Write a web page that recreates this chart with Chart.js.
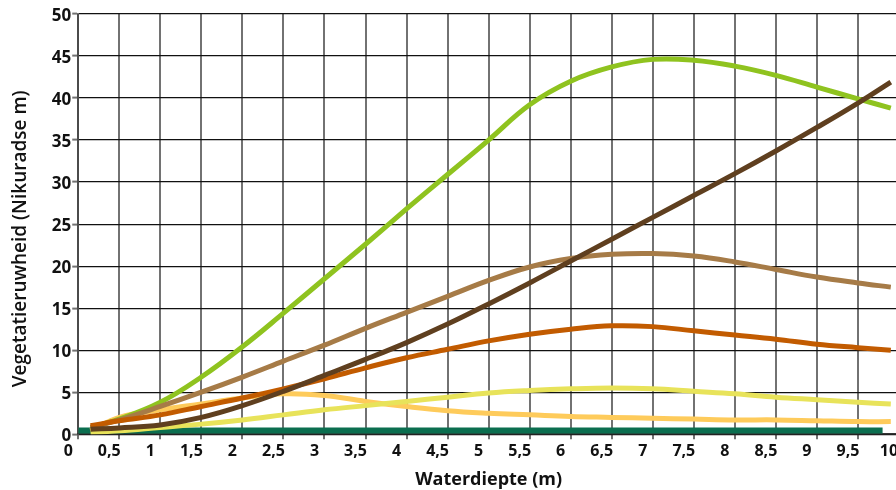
<!DOCTYPE html>
<html>
<head>
<meta charset="utf-8">
<script src="https://cdn.jsdelivr.net/npm/chart.js@4"></script>
<style>
  html, body { margin: 0; padding: 0; background: #ffffff; overflow: hidden; }
  #wrap { width: 920px; height: 490px; }
</style>
</head>
<body>
<div id="wrap"><canvas id="c" width="920" height="490"></canvas></div>
<script>
// ---- data ----
const xTickLabels = ['0','0,5','1','1,5','2','2,5','3','3,5','4','4,5','5','5,5','6','6,5','7','7,5','8','8,5','9','9,5','10'];
const yTickLabels = ['0','5','10','15','20','25','30','35','40','45','50'];

const depth = [0.15, 0.5, 1, 1.5, 2, 2.5, 3, 3.5, 4, 4.5, 5, 5.5, 6, 6.5, 7, 7.5, 8, 8.5, 9, 9.5, 9.9];

const darkBrown   = [0.6, 0.75, 1.1, 2.0, 3.4, 5.1, 7.0, 8.9, 10.9, 13.1, 15.5, 18.0, 20.6, 23.2, 25.8, 28.4, 31.0, 33.7, 36.5, 39.4, 41.9];
const orange      = [1.0, 1.6, 2.3, 3.3, 4.3, 5.4, 6.6, 7.9, 9.1, 10.1, 11.1, 11.9, 12.5, 12.9, 12.8, 12.3, 11.8, 11.3, 10.7, 10.3, 10.0];
const tan         = [0.8, 1.7, 3.3, 5.0, 6.8, 8.7, 10.6, 12.6, 14.5, 16.4, 18.3, 19.9, 20.9, 21.4, 21.5, 21.2, 20.5, 19.6, 18.7, 18.0, 17.5];
const lightGreen  = [0.8, 1.8, 3.8, 6.8, 10.4, 14.4, 18.5, 22.6, 26.8, 30.9, 35.0, 39.2, 42.0, 43.7, 44.6, 44.5, 43.8, 42.7, 41.3, 39.9, 38.8];
const yellow      = [0.2, 0.4, 0.8, 1.2, 1.7, 2.3, 2.9, 3.4, 3.9, 4.4, 4.9, 5.2, 5.4, 5.5, 5.4, 5.1, 4.8, 4.4, 4.1, 3.8, 3.6];
const lightOrange = [0.4, 2.0, 2.9, 3.6, 4.3, 4.8, 4.6, 3.9, 3.3, 2.8, 2.5, 2.3, 2.1, 2.0, 1.9, 1.8, 1.7, 1.7, 1.6, 1.5, 1.5];

const greenDepth = [0, 9.8];
const darkGreen  = [0.45, 0.45];

function pts(xs, ys) { return xs.map((x, i) => ({ x: x, y: ys[i] })); }

const FONT = "'Open Sans', sans-serif";

function line(data, color, width) {
  return {
    data: data,
    borderColor: color,
    backgroundColor: color,
    borderWidth: width,
    pointRadius: 0,
    fill: false,
    tension: 0.4,
    borderCapStyle: 'butt',
    borderJoinStyle: 'round'
  };
}

new Chart(document.getElementById('c'), {
  type: 'line',
  data: {
    datasets: [
      line(pts(depth, darkBrown), '#5f3f1f', 5),
      line(pts(depth, orange), '#c25b00', 5),
      line(pts(depth, tan), '#a67b47', 5),
      line(pts(depth, lightGreen), '#8fc31f', 5),
      line(pts(depth, yellow), '#e8e35a', 5),
      line(pts(depth, lightOrange), '#fecb5b', 5),
      line(pts(greenDepth, darkGreen), '#0b6e4f', 6)
    ]
  },
  options: {
    responsive: false,
    animation: false,
    events: [],
    layout: { padding: { left: 0, right: 21, top: 14, bottom: 0 } },
    plugins: { legend: { display: false }, tooltip: { enabled: false } },
    scales: {
      x: {
        type: 'linear',
        min: 0,
        max: 10,
        afterBuildTicks: (s) => { s.ticks = xTickLabels.map((_, i) => ({ value: i * 0.5 })); },
        ticks: {
          autoSkip: false,
          maxRotation: 0,
          padding: 3,
          labelOffset: -10,
          color: '#111',
          font: { family: FONT, size: 16, weight: 'bold' },
          callback: (v, i) => xTickLabels[i]
        },
        grid: { color: 'rgba(60,60,60,0.72)', lineWidth: 2, tickLength: 5, drawTicks: true },
        border: { display: true, color: '#333333', width: 1.5 },
        title: {
          display: true,
          text: 'Waterdiepte (m)',
          color: '#111',
          font: { family: FONT, size: 18, weight: 'bold' },
          padding: { top: 5, bottom: -1 }
        }
      },
      y: {
        type: 'linear',
        min: 0,
        max: 50,
        afterBuildTicks: (s) => { s.ticks = yTickLabels.map((_, i) => ({ value: i * 5 })); },
        ticks: {
          autoSkip: false,
          padding: 1,
          labelOffset: 2,
          color: '#111',
          font: { family: FONT, size: 17, weight: 'bold' },
          callback: (v, i) => yTickLabels[i]
        },
        grid: { color: '#111111', lineWidth: 1.2, tickLength: 6, tickColor: 'rgba(60,60,60,0.72)', tickWidth: 2 },
        border: { display: true, color: 'rgba(60,60,60,0.72)', width: 2 },
        title: {
          display: true,
          text: 'Vegetatieruwheid (Nikuradse m)\u00a0\u00a0\u00a0\u00a0\u00a0\u00a0',
          color: '#111',
          font: { family: FONT, size: 19, weight: '600' },
          padding: { top: 9, bottom: 19 }
        }
      }
    }
  }
});
</script>
</body>
</html>
